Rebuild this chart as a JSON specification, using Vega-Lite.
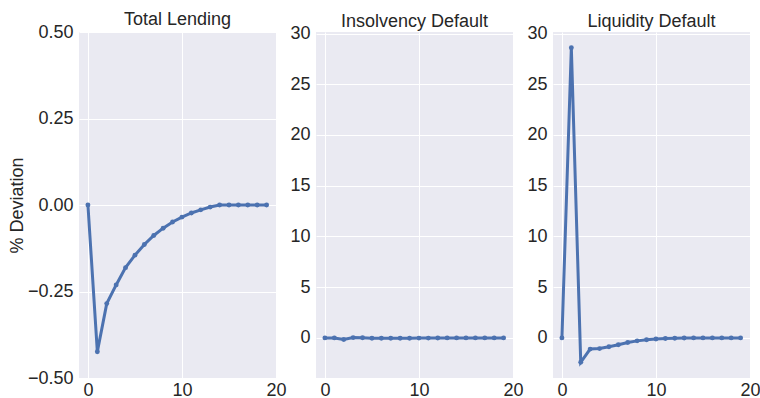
{
  "$schema": "https://vega.github.io/schema/vega-lite/v6.json",
  "padding": {"left": 8, "top": 11, "right": 0, "bottom": 0},
  "background": "white",
  "config": {
    "view": {"fill": "#EAEAF2", "stroke": null},
    "font": "Liberation Sans",
    "axis": {
      "domain": false, "ticks": false, "grid": true, "gridColor": "#FFFFFF", "gridWidth": 1,
      "labelFontSize": 18, "labelColor": "#262626", "labelFont": "Liberation Sans",
      "titleFontSize": 18, "titleColor": "#262626", "titleFontWeight": "normal", "titleFont": "Liberation Sans",
      "labelFlush": false, "labelOverlap": false
    },
    "axisX": {"labelPadding": 3},
    "axisY": {"labelPadding": 6, "titlePadding": 1},
    "title": {"fontSize": 18, "fontWeight": "normal", "color": "#262626", "font": "Liberation Sans", "offset": -6},
    "concat": {"spacing": 40}
  },
  "data": {"values": [
    {"panel": "TL", "t": 0, "v": 0}, {"panel": "TL", "t": 1, "v": -0.424}, {"panel": "TL", "t": 2, "v": -0.285},
    {"panel": "TL", "t": 3, "v": -0.231}, {"panel": "TL", "t": 4, "v": -0.181}, {"panel": "TL", "t": 5, "v": -0.145},
    {"panel": "TL", "t": 6, "v": -0.114}, {"panel": "TL", "t": 7, "v": -0.088}, {"panel": "TL", "t": 8, "v": -0.067},
    {"panel": "TL", "t": 9, "v": -0.049}, {"panel": "TL", "t": 10, "v": -0.035}, {"panel": "TL", "t": 11, "v": -0.023},
    {"panel": "TL", "t": 12, "v": -0.014}, {"panel": "TL", "t": 13, "v": -0.006}, {"panel": "TL", "t": 14, "v": 0},
    {"panel": "TL", "t": 15, "v": 0}, {"panel": "TL", "t": 16, "v": 0}, {"panel": "TL", "t": 17, "v": 0},
    {"panel": "TL", "t": 18, "v": 0}, {"panel": "TL", "t": 19, "v": 0},
    {"panel": "ID", "t": 0, "v": 0}, {"panel": "ID", "t": 1, "v": 0}, {"panel": "ID", "t": 2, "v": -0.15},
    {"panel": "ID", "t": 3, "v": 0.03}, {"panel": "ID", "t": 4, "v": 0.02}, {"panel": "ID", "t": 5, "v": -0.03},
    {"panel": "ID", "t": 6, "v": -0.03}, {"panel": "ID", "t": 7, "v": -0.03}, {"panel": "ID", "t": 8, "v": -0.03},
    {"panel": "ID", "t": 9, "v": -0.03}, {"panel": "ID", "t": 10, "v": -0.02}, {"panel": "ID", "t": 11, "v": -0.02},
    {"panel": "ID", "t": 12, "v": -0.01}, {"panel": "ID", "t": 13, "v": 0}, {"panel": "ID", "t": 14, "v": 0},
    {"panel": "ID", "t": 15, "v": 0}, {"panel": "ID", "t": 16, "v": 0}, {"panel": "ID", "t": 17, "v": 0},
    {"panel": "ID", "t": 18, "v": 0}, {"panel": "ID", "t": 19, "v": 0},
    {"panel": "LD", "t": 0, "v": 0}, {"panel": "LD", "t": 1, "v": 28.6}, {"panel": "LD", "t": 2, "v": -2.4},
    {"panel": "LD", "t": 3, "v": -1.1}, {"panel": "LD", "t": 4, "v": -1.05}, {"panel": "LD", "t": 5, "v": -0.87},
    {"panel": "LD", "t": 6, "v": -0.68}, {"panel": "LD", "t": 7, "v": -0.45}, {"panel": "LD", "t": 8, "v": -0.29},
    {"panel": "LD", "t": 9, "v": -0.18}, {"panel": "LD", "t": 10, "v": -0.1}, {"panel": "LD", "t": 11, "v": -0.05},
    {"panel": "LD", "t": 12, "v": -0.03}, {"panel": "LD", "t": 13, "v": -0.01}, {"panel": "LD", "t": 14, "v": 0},
    {"panel": "LD", "t": 15, "v": 0}, {"panel": "LD", "t": 16, "v": 0}, {"panel": "LD", "t": 17, "v": 0},
    {"panel": "LD", "t": 18, "v": 0}, {"panel": "LD", "t": 19, "v": 0}
  ]},
  "bounds": "flush",
  "hconcat": [
    {
      "title": "Total Lending",
      "width": 197, "height": 346,
      "transform": [{"filter": "datum.panel === 'TL'"}],
      "mark": {"type": "line", "color": "#4C72B0", "strokeWidth": 3, "point": {"filled": true, "size": 24, "color": "#4C72B0"}},
      "encoding": {
        "x": {"field": "t", "type": "quantitative", "scale": {"domain": [-0.95, 20], "nice": false, "zero": false},
              "axis": {"title": null, "values": [0, 10, 20]}},
        "y": {"field": "v", "type": "quantitative", "scale": {"domain": [-0.5, 0.5], "nice": false, "zero": false},
              "axis": {"title": "% Deviation", "values": [-0.5, -0.25, 0, 0.25, 0.5], "format": ".2f",
                       "labelExpr": "replace(datum.label, '-', '\u2212')"}}
      }
    },
    {
      "title": "Insolvency Default",
      "width": 197, "height": 346,
      "transform": [{"filter": "datum.panel === 'ID'"}],
      "mark": {"type": "line", "color": "#4C72B0", "strokeWidth": 3, "point": {"filled": true, "size": 24, "color": "#4C72B0"}},
      "encoding": {
        "x": {"field": "t", "type": "quantitative", "scale": {"domain": [-0.95, 20], "nice": false, "zero": false},
              "axis": {"title": null, "values": [0, 10, 20]}},
        "y": {"field": "v", "type": "quantitative", "scale": {"domain": [-3.95, 30.15], "nice": false, "zero": false},
              "axis": {"title": null, "values": [0, 5, 10, 15, 20, 25, 30]}}
      }
    },
    {
      "title": "Liquidity Default",
      "width": 197, "height": 346,
      "transform": [{"filter": "datum.panel === 'LD'"}],
      "mark": {"type": "line", "color": "#4C72B0", "strokeWidth": 3, "point": {"filled": true, "size": 24, "color": "#4C72B0"}},
      "encoding": {
        "x": {"field": "t", "type": "quantitative", "scale": {"domain": [-0.95, 20], "nice": false, "zero": false},
              "axis": {"title": null, "values": [0, 10, 20]}},
        "y": {"field": "v", "type": "quantitative", "scale": {"domain": [-3.95, 30.15], "nice": false, "zero": false},
              "axis": {"title": null, "values": [0, 5, 10, 15, 20, 25, 30]}}
      }
    }
  ]
}
